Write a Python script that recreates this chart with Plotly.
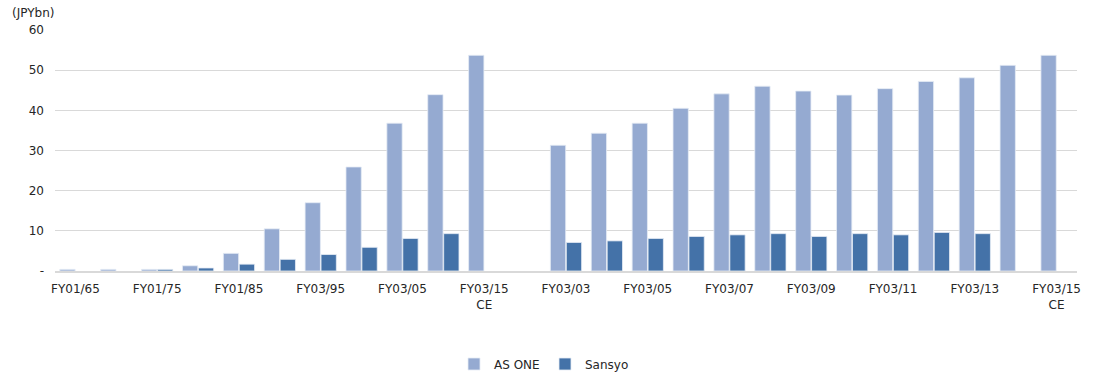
import plotly.graph_objects as go

# Category keys (unique) and their displayed labels
categories = [
    "FY01/65", "FY01/70", "FY01/75", "FY01/80", "FY01/85", "FY03/90", "FY03/95",
    "FY03/00", "FY03/05 (hist)", "FY03/10 (hist)", "FY03/15 CE (hist)",
    "gap",
    "FY03/03", "FY03/04", "FY03/05", "FY03/06", "FY03/07", "FY03/08", "FY03/09",
    "FY03/10", "FY03/11", "FY03/12", "FY03/13", "FY03/14", "FY03/15 CE",
]

as_one = [0.4, 0.4, 0.4, 1.3, 4.4, 10.5, 17.0, 25.9, 36.8, 43.9, 53.7,
          None,
          31.3, 34.3, 36.8, 40.5, 44.1, 46.0, 44.8, 43.8, 45.4, 47.2, 48.1, 51.2, 53.7]

sansyo = [None, None, 0.4, 0.75, 1.7, 2.9, 4.1, 5.9, 8.1, 9.3, None,
          None,
          7.1, 7.5, 8.1, 8.6, 9.0, 9.3, 8.6, 9.3, 9.0, 9.6, 9.3, None, None]

tick_keys = ["FY01/65", "FY01/75", "FY01/85", "FY03/95", "FY03/05 (hist)", "FY03/15 CE (hist)",
             "FY03/03", "FY03/05", "FY03/07", "FY03/09", "FY03/11", "FY03/13", "FY03/15 CE"]
tick_labels = ["FY01/65", "FY01/75", "FY01/85", "FY03/95", "FY03/05", "FY03/15<br>CE",
               "FY03/03", "FY03/05", "FY03/07", "FY03/09", "FY03/11", "FY03/13", "FY03/15<br>CE"]

y_ticks = [0, 10, 20, 30, 40, 50, 60]
y_labels = ["-", "10", "20", "30", "40", "50", "60"]

FONT = "DejaVu Sans"
TXT = "#262626"
FS = 12

fig = go.Figure()
fig.add_trace(go.Bar(
    name="AS ONE", x=categories, y=as_one,
    marker=dict(color="#95AAD1", line=dict(color="#E6ECF5", width=0.8)),
))
fig.add_trace(go.Bar(
    name="Sansyo", x=categories, y=sansyo,
    marker=dict(color="#4472A8", line=dict(color="#E6ECF5", width=0.8)),
))

fig.update_layout(
    width=1095, height=374,
    margin=dict(l=55, r=18, t=30, b=103, autoexpand=False),
    paper_bgcolor="white", plot_bgcolor="white",
    barmode="group", bargap=0.22, bargroupgap=0.04,
    font=dict(family=FONT, size=FS, color=TXT),
    showlegend=True,
    legend=dict(orientation="h", xref="container", x=545 / 1095, xanchor="center",
                yref="container", y=1 - 364 / 374, yanchor="middle",
                font=dict(family=FONT, size=FS, color=TXT), itemwidth=30,
                entrywidth=46, traceorder="normal"),
    annotations=[dict(text="(JPYbn)", xref="paper", yref="paper",
                      x=-0.044, y=1.0705,
                      xanchor="left", yanchor="middle", showarrow=False,
                      font=dict(family=FONT, size=FS, color=TXT))],
)
fig.update_xaxes(
    type="category", categoryorder="array", categoryarray=categories,
    tickmode="array", tickvals=tick_keys, ticktext=tick_labels,
    showgrid=False, showline=True, linecolor="#D9D9D9", linewidth=1.5,
    ticks="", ticklabelstandoff=6, tickfont=dict(family=FONT, size=FS, color=TXT),
)
fig.update_yaxes(
    range=[0, 60], tickmode="array", tickvals=y_ticks, ticktext=y_labels,
    showgrid=True, gridcolor="#D9D9D9", gridwidth=1, zeroline=False,
    showline=False, ticks="", ticklabelstandoff=10,
    tickfont=dict(family=FONT, size=FS, color=TXT),
)

fig.write_html("out.html", config={"displayModeBar": False},
               post_script="document.body.style.margin='0';")
